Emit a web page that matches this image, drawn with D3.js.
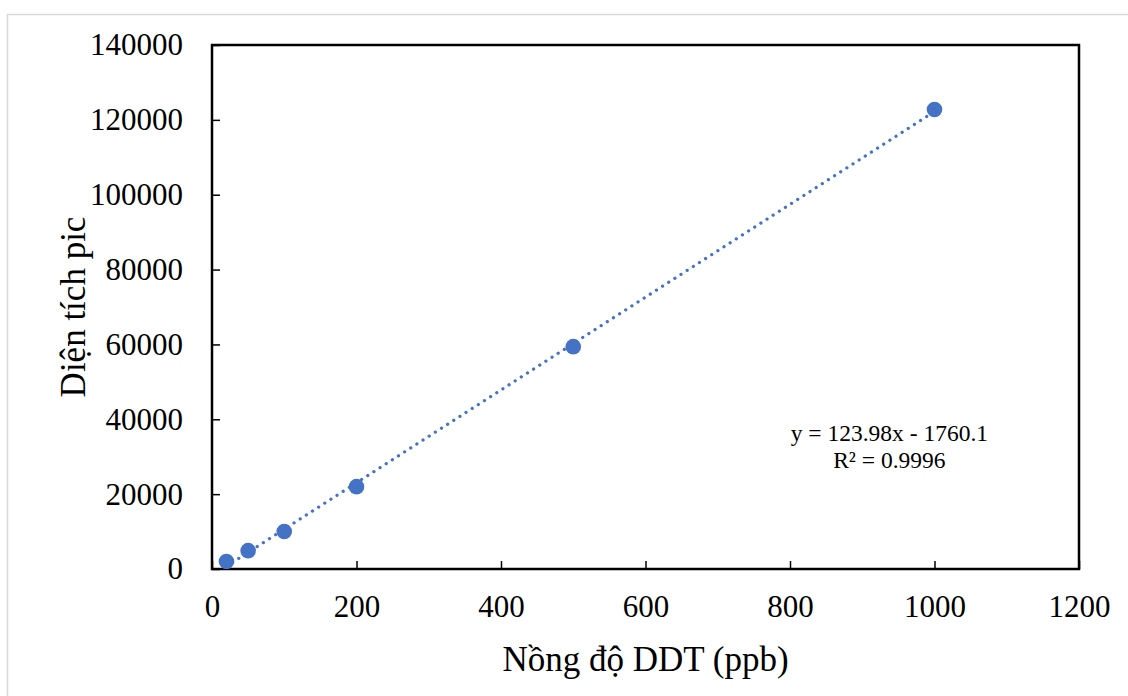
<!DOCTYPE html>
<html>
<head>
<meta charset="utf-8">
<script src="https://cdn.jsdelivr.net/npm/d3@7"></script>
<style>
  html, body { margin: 0; padding: 0; background: #fff; }
  text { font-family: "Liberation Serif", "Times New Roman", serif; fill: #000; }
</style>
</head>
<body>
<svg id="chart" width="1128" height="696"></svg>
<script>
// Calibration data: DDT concentration (ppb) vs peak area
var concentrations = [20, 50, 100, 200, 500, 1000];
var peakAreas = [2000, 4900, 10000, 22000, 59400, 122750];
var xTicks = [0, 200, 400, 600, 800, 1000, 1200];
var yTicks = [0, 20000, 40000, 60000, 80000, 100000, 120000, 140000];
var slope = 123.98, intercept = -1760.1;
var equationLines = ['y = 123.98x - 1760.1', 'R\u00b2 = 0.9996'];

var svg = d3.select('#chart');
var margin = { top: 45, right: 49, bottom: 127, left: 212 };
var w = 1128 - margin.left - margin.right;
var h = 696 - margin.top - margin.bottom;
var blue = '#4472c4';

// outer chart border
svg.append('rect').attr('x', 7.5).attr('y', 14.5).attr('width', 1140).attr('height', 700)
  .attr('fill', 'none').attr('stroke', '#d9d9d9').attr('stroke-width', 1.5);

var g = svg.append('g').attr('transform', 'translate(' + margin.left + ',' + margin.top + ')');

var x = d3.scaleLinear().domain([0, 1200]).range([0, w]);
var y = d3.scaleLinear().domain([0, 140000]).range([h, 0]);

// plot frame
g.append('rect').attr('width', w).attr('height', h)
  .attr('fill', 'none').attr('stroke', '#000').attr('stroke-width', 2.5);

// axes with inward ticks
var fmt = d3.format('d');
var xAxis = g.append('g').attr('transform', 'translate(0,' + h + ')')
  .call(d3.axisBottom(x).tickValues(xTicks).tickFormat(fmt).tickSizeInner(-8).tickSizeOuter(0));
var yAxis = g.append('g')
  .call(d3.axisLeft(y).tickValues(yTicks).tickFormat(fmt).tickSizeInner(-8).tickSizeOuter(0).tickPadding(29));
[xAxis, yAxis].forEach(function (a) {
  a.select('.domain').remove();
  a.selectAll('line').attr('stroke', '#000').attr('stroke-width', 1.5);
  a.selectAll('text').style('font-size', '31px').style('font-family', '"Liberation Serif", serif');
});
xAxis.selectAll('text').attr('y', 48).attr('dy', 0);

// trendline (dotted)
var tx = d3.extent(concentrations);
g.append('line')
  .attr('x1', x(tx[0])).attr('y1', y(slope * tx[0] + intercept))
  .attr('x2', x(tx[1])).attr('y2', y(slope * tx[1] + intercept))
  .attr('stroke', blue).attr('stroke-width', 3.2)
  .attr('stroke-linecap', 'round').attr('stroke-dasharray', '0.1 7.2');

// data points
g.selectAll('circle.pt').data(concentrations).enter().append('circle')
  .attr('class', 'pt')
  .attr('cx', function (d) { return x(d); })
  .attr('cy', function (d, i) { return y(peakAreas[i]); })
  .attr('r', 7.8).attr('fill', blue);

// equation label
equationLines.forEach(function (t, i) {
  g.append('text').attr('x', x(937.5)).attr('y', y(34300) + i * 27)
    .attr('text-anchor', 'middle').style('font-size', '23.5px').text(t);
});

// axis titles
svg.append('text').attr('x', margin.left + w / 2).attr('y', 671)
  .attr('text-anchor', 'middle').style('font-size', '35px').text('Nồng độ DDT (ppb)');
svg.append('text')
  .attr('transform', 'translate(85,' + (margin.top + h / 2) + ') rotate(-90)')
  .attr('text-anchor', 'middle').style('font-size', '35px').text('Diện tích pic');
</script>
</body>
</html>
